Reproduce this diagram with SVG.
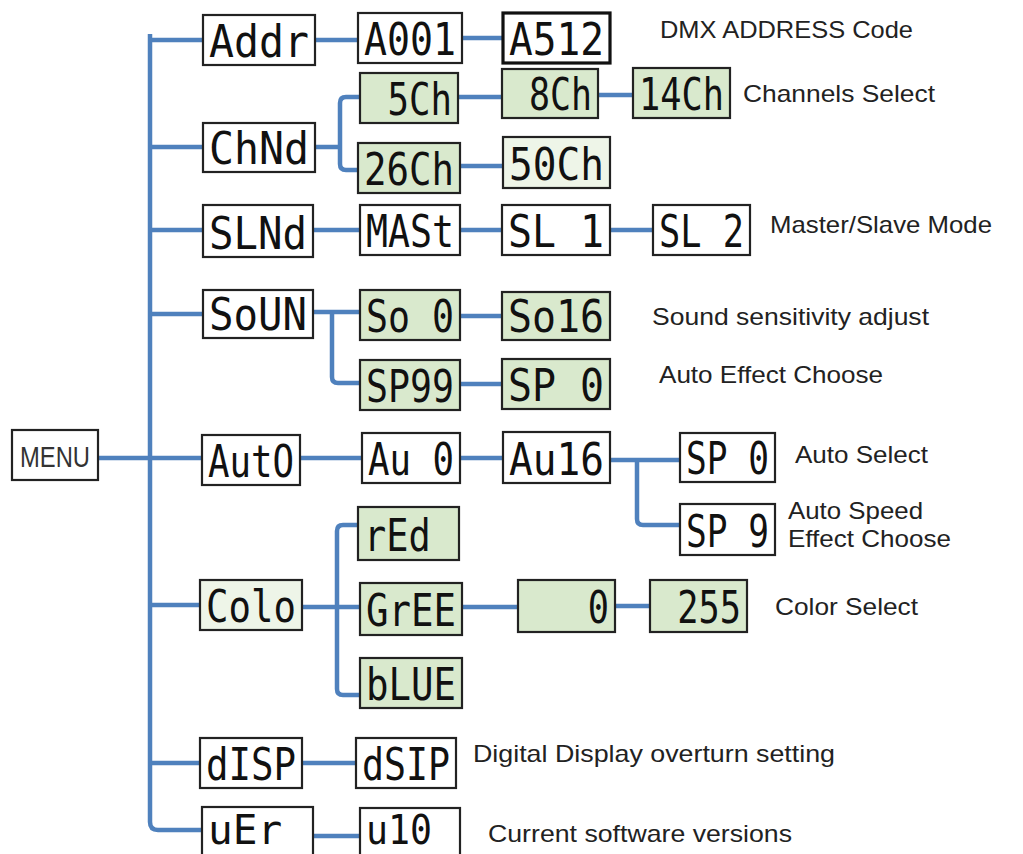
<svg xmlns="http://www.w3.org/2000/svg" width="1023" height="854" viewBox="0 0 1023 854">
<style>
.box{stroke:#222;stroke-width:2.2}
.w{fill:#fff}
.g{fill:#d9e9cd}
.p{fill:#eef5e8}
.thick{stroke-width:3.2;stroke:#111}
.seg{font-family:"DejaVu Sans Mono","Liberation Mono",monospace;font-size:44px;fill:#111;white-space:pre}
.sm{font-size:40px}
.lbl{font-family:"Liberation Sans",Arial,sans-serif;font-size:24px;fill:#222}
.conn{fill:none;stroke:#4f81bd;stroke-width:4.5;stroke-linejoin:round}
</style>
<rect width="1023" height="854" fill="#fff"/>
<g id="connectors" class="conn">
<path d="M150,34 V822 Q150,830 158,830 H202"/>
<path d="M98,458 H202"/>
<path d="M150,40 H203 M150,147 H203 M150,230 H203 M150,314 H203 M150,605 H200 M150,763 H200"/>
<path d="M315,40 H358 M462,38 H503"/>
<path d="M315,147 H340 M360,97 H346 Q340,97 340,103 V164 Q340,170 346,170 H358"/>
<path d="M458,97 H502 M598,95 H633 M460,166 H503"/>
<path d="M313,230 H360 M460,230 H502 M610,230 H653"/>
<path d="M313,312 H360 M332,312 V377 Q332,383 338,383 H360 M460,316 H502 M460,384 H502"/>
<path d="M300,458 H362 M460,458 H503 M610,460 H680 M637,460 V519 Q637,525 643,525 H680"/>
<path d="M302,607 H360 M358,525 H343 Q337,525 337,531 V689 Q337,695 343,695 H360 M462,607 H518 M615,606 H650"/>
<path d="M302,763 H356 M313,836 H360"/>
</g>
<g id="menu"><rect class="box w" x="12" y="430" width="86" height="50"/><text x="20" y="467" font-family="Liberation Sans,Arial,sans-serif" font-size="30" fill="#333" textLength="70" lengthAdjust="spacingAndGlyphs">MENU</text></g>
<g id="addr"><rect class="box w" x="203" y="15" width="112" height="50"/><text class="seg" x="209" y="57" textLength="100" lengthAdjust="spacingAndGlyphs">Addr</text></g>
<g id="a001"><rect class="box w" x="358" y="13" width="104" height="50"/><text class="seg" x="364" y="55" textLength="92" lengthAdjust="spacingAndGlyphs">A001</text></g>
<g id="a512"><rect class="box w thick" x="503" y="13" width="107" height="50"/><text class="seg" x="509" y="55" textLength="95" lengthAdjust="spacingAndGlyphs">A512</text></g>
<g id="chnd"><rect class="box w" x="203" y="123" width="112" height="49"/><text class="seg" x="209" y="164" textLength="100" lengthAdjust="spacingAndGlyphs">ChNd</text></g>
<g id="ch5"><rect class="box g" x="360" y="73" width="98" height="50"/><text class="seg" x="366" y="115" textLength="86" lengthAdjust="spacingAndGlyphs"> 5Ch</text></g>
<g id="ch8"><rect class="box g" x="502" y="69" width="96" height="49"/><text class="seg" x="508" y="110" textLength="84" lengthAdjust="spacingAndGlyphs"> 8Ch</text></g>
<g id="ch14"><rect class="box g" x="633" y="68" width="97" height="50"/><text class="seg" x="639" y="110" textLength="85" lengthAdjust="spacingAndGlyphs">14Ch</text></g>
<g id="ch26"><rect class="box g" x="358" y="143" width="102" height="50"/><text class="seg" x="364" y="185" textLength="90" lengthAdjust="spacingAndGlyphs">26Ch</text></g>
<g id="ch50"><rect class="box p" x="503" y="137" width="107" height="51"/><text class="seg" x="509" y="180" textLength="95" lengthAdjust="spacingAndGlyphs">50Ch</text></g>
<g id="slnd"><rect class="box w" x="203" y="205" width="110" height="52"/><text class="seg" x="209" y="249" textLength="98" lengthAdjust="spacingAndGlyphs">SLNd</text></g>
<g id="mast"><rect class="box w" x="360" y="205" width="100" height="50"/><text class="seg" x="366" y="247" textLength="88" lengthAdjust="spacingAndGlyphs">MASt</text></g>
<g id="sl1"><rect class="box w" x="502" y="205" width="108" height="50"/><text class="seg" x="508" y="247" textLength="96" lengthAdjust="spacingAndGlyphs">SL 1</text></g>
<g id="sl2"><rect class="box w" x="653" y="205" width="97" height="50"/><text class="seg" x="659" y="247" textLength="85" lengthAdjust="spacingAndGlyphs">SL 2</text></g>
<g id="soun"><rect class="box w" x="203" y="290" width="110" height="48"/><text class="seg" x="209" y="330" textLength="98" lengthAdjust="spacingAndGlyphs">SoUN</text></g>
<g id="so0"><rect class="box g" x="360" y="290" width="100" height="50"/><text class="seg" x="366" y="332" textLength="88" lengthAdjust="spacingAndGlyphs">So 0</text></g>
<g id="so16"><rect class="box g" x="502" y="292" width="108" height="48"/><text class="seg" x="508" y="332" textLength="96" lengthAdjust="spacingAndGlyphs">So16</text></g>
<g id="sp99"><rect class="box g" x="360" y="360" width="100" height="50"/><text class="seg" x="366" y="402" textLength="88" lengthAdjust="spacingAndGlyphs">SP99</text></g>
<g id="sp0s"><rect class="box g" x="502" y="359" width="108" height="50"/><text class="seg" x="508" y="401" textLength="96" lengthAdjust="spacingAndGlyphs">SP 0</text></g>
<g id="auto"><rect class="box w" x="202" y="435" width="98" height="50"/><text class="seg" x="208" y="477" textLength="86" lengthAdjust="spacingAndGlyphs">AutO</text></g>
<g id="au0"><rect class="box w" x="362" y="433" width="98" height="50"/><text class="seg" x="368" y="475" textLength="86" lengthAdjust="spacingAndGlyphs">Au 0</text></g>
<g id="au16"><rect class="box w" x="503" y="432" width="107" height="51"/><text class="seg" x="509" y="475" textLength="95" lengthAdjust="spacingAndGlyphs">Au16</text></g>
<g id="sp0a"><rect class="box w" x="680" y="433" width="95" height="49"/><text class="seg" x="686" y="474" textLength="83" lengthAdjust="spacingAndGlyphs">SP 0</text></g>
<g id="sp9"><rect class="box w" x="680" y="504" width="95" height="51"/><text class="seg" x="686" y="547" textLength="83" lengthAdjust="spacingAndGlyphs">SP 9</text></g>
<g id="colo"><rect class="box p" x="200" y="580" width="102" height="50"/><text class="seg" x="206" y="622" textLength="90" lengthAdjust="spacingAndGlyphs">Colo</text></g>
<g id="red"><rect class="box g" x="358" y="507" width="101" height="53"/><text class="seg" x="364" y="551" textLength="89" lengthAdjust="spacingAndGlyphs">rEd </text></g>
<g id="gree"><rect class="box g" x="360" y="583" width="102" height="52"/><text class="seg" x="366" y="626" textLength="90" lengthAdjust="spacingAndGlyphs">GrEE</text></g>
<g id="blue"><rect class="box g" x="360" y="658" width="102" height="50"/><text class="seg" x="366" y="700" textLength="90" lengthAdjust="spacingAndGlyphs">bLUE</text></g>
<g id="val0"><rect class="box g" x="518" y="580" width="97" height="52"/><text class="seg" x="524" y="623" textLength="85" lengthAdjust="spacingAndGlyphs">   0</text></g>
<g id="val255"><rect class="box g" x="650" y="580" width="97" height="52"/><text class="seg" x="656" y="623" textLength="85" lengthAdjust="spacingAndGlyphs"> 255</text></g>
<g id="disp"><rect class="box w" x="200" y="738" width="102" height="50"/><text class="seg" x="206" y="780" textLength="90" lengthAdjust="spacingAndGlyphs">dISP</text></g>
<g id="dsip"><rect class="box w" x="356" y="738" width="100" height="50"/><text class="seg" x="362" y="780" textLength="88" lengthAdjust="spacingAndGlyphs">dSIP</text></g>
<g id="ver"><rect class="box w" x="202" y="807" width="111" height="52"/><text class="seg sm" x="208" y="844" textLength="99" lengthAdjust="spacingAndGlyphs">uEr </text></g>
<g id="u10"><rect class="box w" x="360" y="808" width="100" height="52"/><text class="seg sm" x="366" y="844" textLength="88" lengthAdjust="spacingAndGlyphs">u10 </text></g>
<g id="labels">
<text class="lbl" x="660" y="38" textLength="253" lengthAdjust="spacingAndGlyphs">DMX ADDRESS Code</text>
<text class="lbl" x="743" y="102" textLength="192" lengthAdjust="spacingAndGlyphs">Channels Select</text>
<text class="lbl" x="770" y="233" textLength="222" lengthAdjust="spacingAndGlyphs">Master/Slave Mode</text>
<text class="lbl" x="652" y="325" textLength="277" lengthAdjust="spacingAndGlyphs">Sound sensitivity adjust</text>
<text class="lbl" x="659" y="383" textLength="224" lengthAdjust="spacingAndGlyphs">Auto Effect Choose</text>
<text class="lbl" x="795" y="463" textLength="133" lengthAdjust="spacingAndGlyphs">Auto Select</text>
<text class="lbl" x="788" y="519" textLength="135" lengthAdjust="spacingAndGlyphs">Auto Speed</text>
<text class="lbl" x="788" y="547" textLength="163" lengthAdjust="spacingAndGlyphs">Effect Choose</text>
<text class="lbl" x="775" y="615" textLength="143" lengthAdjust="spacingAndGlyphs">Color Select</text>
<text class="lbl" x="473" y="762" textLength="362" lengthAdjust="spacingAndGlyphs">Digital Display overturn setting</text>
<text class="lbl" x="488" y="842" textLength="304" lengthAdjust="spacingAndGlyphs">Current software versions</text>
</g>
</svg>
